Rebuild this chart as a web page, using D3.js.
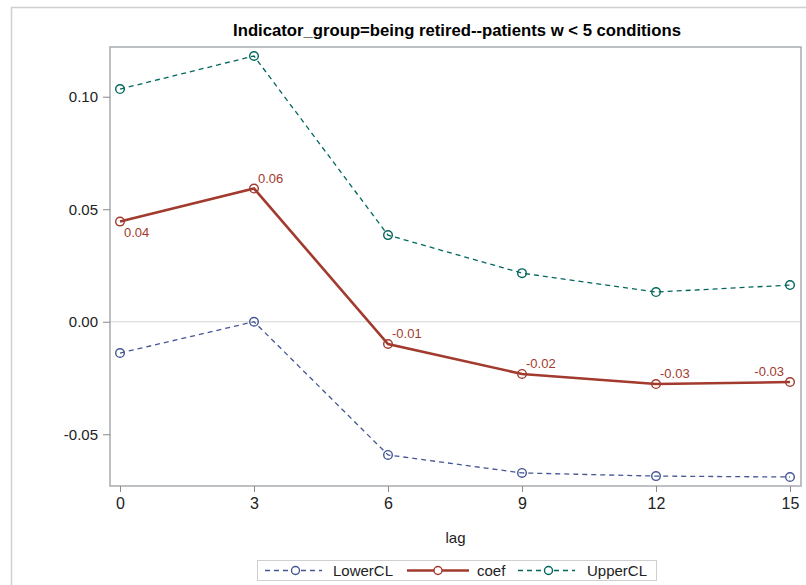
<!DOCTYPE html>
<html>
<head>
<meta charset="utf-8">
<script src="https://cdn.jsdelivr.net/npm/d3@7"></script>
<style>
  html, body { margin: 0; padding: 0; background: #fff; }
  svg { display: block; }
  text { font-family: "Liberation Sans", Arial, sans-serif; }
</style>
</head>
<body>
<svg id="chart" width="806" height="585"></svg>
<script>
// Regression coefficient by lag, with its confidence limits
const lags = [0, 3, 6, 9, 12, 15];
const coef = [0.0445, 0.0592, -0.0099, -0.0232, -0.0277, -0.0268];
const lowerCL = [-0.0139, 0.0000, -0.0592, -0.0672, -0.0686, -0.0690];
const upperCL = [0.1034, 0.1181, 0.0385, 0.0216, 0.0132, 0.0163];
const yTicks = [-0.05, 0.00, 0.05, 0.10];
const xTicks = [0, 3, 6, 9, 12, 15];
const seriesNames = ["LowerCL", "coef", "UpperCL"];
const titleText = "Indicator_group=being retired--patients w < 5 conditions";
const xLabel = "lag";

const colors = { LowerCL: "#445694", coef: "#A23A2E", UpperCL: "#01665E" };

const svg = d3.select("#chart");
const frame = { left: 110, top: 47, right: 801, bottom: 486 };

// number format with a plain hyphen for negatives
const f2 = d3.format(".2f");
const fmt = v => f2(v).replace("\u2212", "-");

// outer graph border
svg.append("path")
  .attr("d", "M11.5,585 L11.5,7.5 L806,7.5")
  .attr("fill", "none").attr("stroke", "#cfcfcf").attr("stroke-width", 1.5);

const x = d3.scaleLinear().domain([-0.224, 15.246]).range([frame.left, frame.right]);
const y = d3.scaleLinear().domain([0.1221, -0.0730]).range([frame.top, frame.bottom]);

// title
const title = svg.append("text")
  .attr("x", (233 + 681) / 2).attr("y", 36)
  .attr("text-anchor", "middle")
  .attr("font-family", "'Liberation Sans Narrow', 'Arial Narrow', 'Liberation Sans', sans-serif")
  .attr("font-weight", "bold")
  .attr("font-size", 17)
  .attr("fill", "#000")
  .text(titleText);
{
  const w = title.node().getComputedTextLength();
  title.attr("font-size", 17 * 448 / w);
}

// zero reference line
svg.append("line")
  .attr("x1", frame.left).attr("x2", frame.right)
  .attr("y1", y(0)).attr("y2", y(0))
  .attr("stroke", "#d4d4d4").attr("stroke-width", 1);

// plot frame
svg.append("rect")
  .attr("x", frame.left).attr("y", frame.top)
  .attr("width", frame.right - frame.left).attr("height", frame.bottom - frame.top)
  .attr("fill", "none").attr("stroke", "#a8acb0").attr("stroke-width", 1.5);

// y axis
const yAxis = svg.append("g")
  .attr("transform", `translate(${frame.left},0)`)
  .call(d3.axisLeft(y).tickValues(yTicks).tickFormat(fmt).tickSize(7).tickPadding(5));
yAxis.select(".domain").remove();
yAxis.selectAll(".tick line").attr("stroke", "#8a8a8a");
yAxis.selectAll(".tick text")
  .attr("font-family", "'Liberation Sans', Arial, sans-serif")
  .attr("font-size", 15).attr("fill", "#222");

// x axis
const xAxis = svg.append("g")
  .attr("transform", `translate(0,${frame.bottom})`)
  .call(d3.axisBottom(x).tickValues(xTicks).tickSize(6).tickPadding(6));
xAxis.select(".domain").remove();
xAxis.selectAll(".tick line").attr("stroke", "#8a8a8a");
xAxis.selectAll(".tick text")
  .attr("font-family", "'Liberation Sans Narrow', 'Arial Narrow', 'Liberation Sans', sans-serif")
  .attr("font-size", 16).attr("fill", "#222");

// x axis label
svg.append("text")
  .attr("x", (frame.left + frame.right) / 2).attr("y", 543)
  .attr("text-anchor", "middle")
  .attr("font-size", 15).attr("fill", "#222")
  .text(xLabel);

// series
const seriesData = { LowerCL: lowerCL, coef: coef, UpperCL: upperCL };
const styles = {
  LowerCL: { width: 1.3, dash: "5,4" },
  coef: { width: 2.6, dash: null },
  UpperCL: { width: 1.3, dash: "5,4" }
};
const line = d3.line().x(d => x(d[0])).y(d => y(d[1]));

seriesNames.forEach(name => {
  const pts = lags.map((l, i) => [l, seriesData[name][i]]);
  const g = svg.append("g");
  g.append("path")
    .attr("d", line(pts))
    .attr("fill", "none")
    .attr("stroke", colors[name])
    .attr("stroke-width", styles[name].width)
    .attr("stroke-dasharray", styles[name].dash);
  g.selectAll("circle").data(pts).join("circle")
    .attr("cx", d => x(d[0])).attr("cy", d => y(d[1]))
    .attr("r", 4.3)
    .attr("fill", "none")
    .attr("stroke", colors[name])
    .attr("stroke-width", 1.4);
});

// value labels on the coefficient line
coef.forEach((v, i) => {
  const px = x(lags[i]), py = y(v);
  const next = i < coef.length - 1 ? y(coef[i + 1]) : py;
  const below = py - next > 10;          // outgoing segment climbs steeply
  const atRight = i === coef.length - 1; // keep inside the frame
  svg.append("text")
    .attr("x", atRight ? px - 6 : px + 4)
    .attr("y", below ? py + 15 : py - 6)
    .attr("text-anchor", atRight ? "end" : "start")
    .attr("font-size", 13)
    .attr("fill", colors.coef)
    .text(fmt(v));
});

// legend
const legend = svg.append("g");
legend.append("rect")
  .attr("x", 257.5).attr("y", 560.5).attr("width", 399).attr("height", 20)
  .attr("fill", "#fff").attr("stroke", "#cfcfcf").attr("stroke-width", 1);
const legendItems = [
  { name: "LowerCL", x0: 265, x1: 322, tx: 333 },
  { name: "coef", x0: 407, x1: 469, tx: 477 },
  { name: "UpperCL", x0: 518, x1: 575, tx: 587 }
];
legendItems.forEach(it => {
  const cy = 570.5;
  const mx = (it.x0 + it.x1) / 2 + (it.name === "coef" ? 0 : 2);
  legend.append("line")
    .attr("x1", it.x0).attr("x2", it.x1).attr("y1", cy).attr("y2", cy)
    .attr("stroke", colors[it.name])
    .attr("stroke-width", styles[it.name].width)
    .attr("stroke-dasharray", styles[it.name].dash);
  legend.append("circle")
    .attr("cx", mx).attr("cy", cy).attr("r", 4)
    .attr("fill", "#fff").attr("stroke", colors[it.name]).attr("stroke-width", 1.4);
  legend.append("text")
    .attr("x", it.tx).attr("y", cy + 5.5)
    .attr("font-size", 15).attr("fill", "#222")
    .text(it.name);
});
</script>
</body>
</html>
